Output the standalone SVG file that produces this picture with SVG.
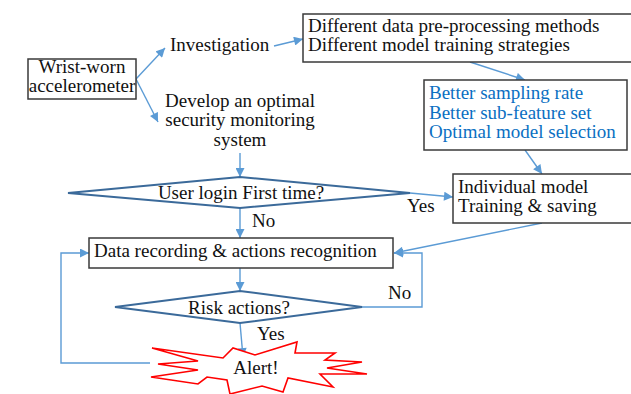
<svg xmlns="http://www.w3.org/2000/svg" width="631" height="394" viewBox="0 0 631 394">
<defs>
<style>
text{font-family:"Liberation Serif","Times New Roman",serif;font-size:19px;fill:#111}
.blue{fill:#0a6fc2}
.box{fill:#fff;stroke:#3a3a3a;stroke-width:1.5}
.dia{fill:#fff;stroke:#3b6a9a;stroke-width:2}
.con{fill:none;stroke:#5b9bd5;stroke-width:1.4}
.star{fill:#fff;stroke:#ff0000;stroke-width:1.6;stroke-linejoin:miter}
</style>
<marker id="ah" viewBox="0 0 10 10" refX="10" refY="5" markerWidth="10" markerHeight="9" markerUnits="userSpaceOnUse" orient="auto">
<path d="M0,0 L10,5 L0,10 z" fill="#5b9bd5"/>
</marker>
</defs>
<rect width="631" height="394" fill="#fff"/>
<g id="connectors">
<line class="con" x1="136" y1="79" x2="165" y2="48" marker-end="url(#ah)"/>
<line class="con" x1="136" y1="79" x2="158" y2="122" marker-end="url(#ah)"/>
<line class="con" x1="274" y1="46" x2="303" y2="39" marker-end="url(#ah)"/>
<line class="con" x1="240" y1="153" x2="240" y2="177" marker-end="url(#ah)"/>
<line class="con" x1="470" y1="62" x2="525" y2="80" marker-end="url(#ah)"/>
<line class="con" x1="525" y1="150" x2="542" y2="174" marker-end="url(#ah)"/>
<line class="con" x1="410" y1="193" x2="453" y2="197" marker-end="url(#ah)"/>
<line class="con" x1="240" y1="208" x2="240" y2="238" marker-end="url(#ah)"/>
<line class="con" x1="542" y1="223" x2="394" y2="253" marker-end="url(#ah)"/>
<line class="con" x1="240" y1="268" x2="240" y2="291" marker-end="url(#ah)"/>
<polyline class="con" points="362,307 422,307 422,253 394,253" marker-end="url(#ah)"/>
<line class="con" x1="240" y1="323" x2="243" y2="357" marker-end="url(#ah)"/>
<polyline class="con" points="150,363 61,363 61,253 89,253" marker-end="url(#ah)"/>
</g>
<g id="wrist">
<rect class="box" x="28" y="59" width="108" height="40"/>
<text x="82" y="73" text-anchor="middle">Wrist-worn</text>
<text x="82" y="92" text-anchor="middle">accelerometer</text>
</g>
<g id="investigation">
<text x="170" y="51">Investigation</text>
</g>
<g id="develop">
<text x="240" y="107" text-anchor="middle">Develop an optimal</text>
<text x="240" y="126" text-anchor="middle">security monitoring</text>
<text x="240" y="146" text-anchor="middle">system</text>
</g>
<g id="methods">
<rect class="box" x="303" y="14" width="340" height="48"/>
<text x="308" y="32">Different data pre-processing methods</text>
<text x="308" y="51">Different model training strategies</text>
</g>
<g id="better">
<rect class="box" x="424" y="80" width="203" height="70"/>
<text class="blue" x="429" y="99">Better sampling rate</text>
<text class="blue" x="429" y="119">Better sub-feature set</text>
<text class="blue" x="429" y="138">Optimal model selection</text>
</g>
<g id="individual">
<rect class="box" x="453" y="174" width="190" height="49"/>
<text x="458" y="193">Individual model</text>
<text x="458" y="212">Training &amp; saving</text>
</g>
<g id="login">
<polygon class="dia" points="68,193 240,177 410,193 240,208"/>
<text x="241" y="199" text-anchor="middle">User login First time?</text>
</g>
<g id="recording">
<rect class="box" x="89" y="238" width="304" height="30"/>
<text x="94" y="257">Data recording &amp; actions recognition</text>
</g>
<g id="risk">
<polygon class="dia" points="115,307 240,291 362,307 240,323"/>
<text x="239" y="314" text-anchor="middle">Risk actions?</text>
</g>
<g id="alert">
<polygon class="star" points="152,348 223,358 233,348 255,355 297,342 295,353 335,353 325,360 362,362 327,368 367,374 320,374 333,387 288,378 283,392 262,386 230,394 227,380 207,377 198,384 151,377 198,370 158,364 198,361"/>
<text x="256" y="374" text-anchor="middle">Alert!</text>
</g>
<g id="labels">
<text x="252" y="227">No</text>
<text x="407" y="212">Yes</text>
<text x="388" y="299">No</text>
<text x="257" y="340">Yes</text>
</g>
</svg>
